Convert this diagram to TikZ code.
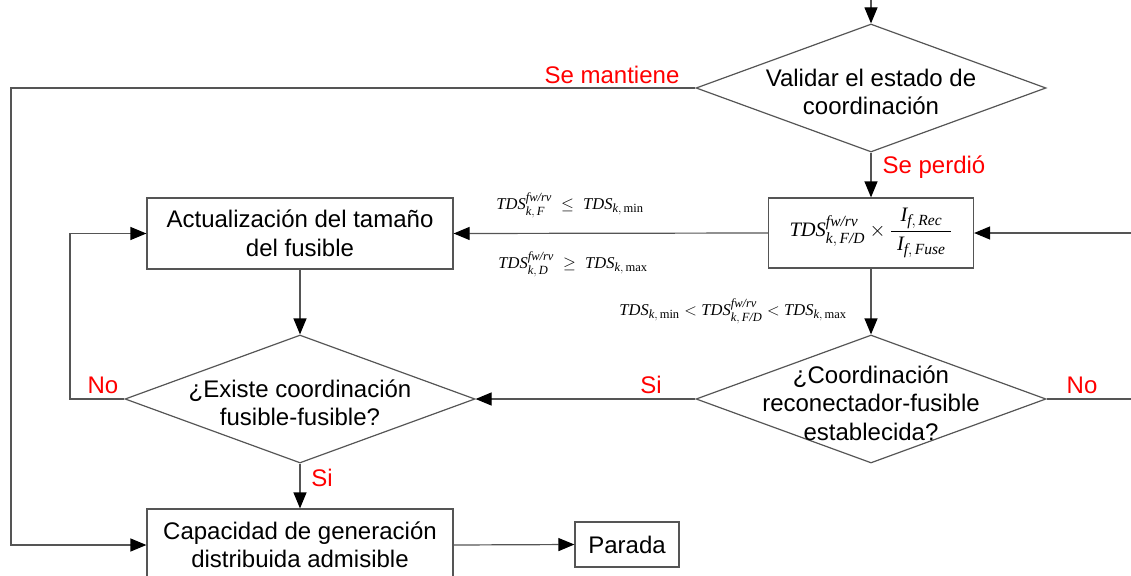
\RequirePackage{fix-cm}
\documentclass[tikz,border=0pt]{standalone}
\usepackage{amsmath}
\usepackage{fontspec}
\setmainfont{Liberation Sans}
\newfontfamily\tfont{Liberation Serif}
\usetikzlibrary{shapes.geometric,arrows.meta}
\DeclareMathSizes{16.5}{16.5}{12.5}{10}
\DeclareMathSizes{20.5}{20.5}{15.5}{12}
\newcommand{\ti}[1]{\text{\tfont\itshape #1}}
\newcommand{\tr}[1]{\text{\tfont #1}}
\newcommand{\cm}{,\,}
\definecolor{linec}{RGB}{85,85,85}
\definecolor{redc}{RGB}{255,0,0}
\tikzset{
  every node/.style={font=\fontsize{24}{28.5}\selectfont},
  conn/.style={draw=linec, line width=1.2pt},
  arr/.style={conn, -{Triangle[length=16pt,width=13pt,color=black,fill=black]}},
  procbox/.style={draw=linec, line width=1.2pt, rectangle, inner sep=0pt, align=center},
  decision/.style={draw=linec, line width=1.2pt, diamond, inner sep=0pt, minimum width=350pt, minimum height=128pt},
  dlabel/.style={align=center, yshift=-4pt},
  redlbl/.style={text=redc, inner sep=0pt},
  mathlbl/.style={inner sep=0pt, font=\fontsize{16.5}{19}\selectfont},
}
\begin{document}
\begin{tikzpicture}[x=1pt, y=-1pt]
\useasboundingbox (0,0) rectangle (1131,575);
% nodes
\node[decision, label={[dlabel]center:{Validar el estado de\\coordinación}}] (D1) at (871,88) {};
\node[procbox, minimum width=205pt, minimum height=70pt, font=\fontsize{20.5}{24}\selectfont] (F) at (871,233)
  {$\ti{TDS}^{\ti{fw/rv}}_{\ti{k}\cm\ti{F/D}}\times\dfrac{\;\ti{I}_{\ti{f}\cm\ti{Rec}}\;}{\;\ti{I}_{\ti{f}\cm\ti{Fuse}}\;}$};
\node[procbox, minimum width=306pt, minimum height=71pt] (A) at (300,233.5) {Actualización del tamaño\\del fusible};
\node[decision, label={[dlabel]center:{¿Existe coordinación\\fusible-fusible?}}] (D2) at (300,399) {};
\node[decision, label={[dlabel]center:{¿Coordinación\\reconectador-fusible\\establecida?}}] (D3) at (871,399) {};
\node[procbox, minimum width=306pt, minimum height=72pt] (C) at (300,545) {Capacidad de generación\\distribuida admisible};
\node[procbox, minimum width=104pt, minimum height=45pt] (P) at (627,544.5) {Parada};
% free ends
\coordinate (topin) at (871,-20);
\coordinate (rin) at (1145,233);
\coordinate (rout) at (1145,399);
\coordinate (lx) at (11,300);
\coordinate (nx) at (70,300);
% connectors
\draw[arr] (topin) -- (D1.north);
\draw[arr] (D1.west) -| (lx) |- (C.west);
\draw[arr] (D1.south) -- (F.north);
\draw[arr] (rin) -- (F.east);
\draw[arr] (F.west) -- (A.east);
\draw[arr] (A.south) -- (D2.north);
\draw[arr] (F.south) -- (D3.north);
\draw[arr] (D3.west) -- (D2.east);
\draw[conn] (D3.east) -- (rout);
\draw[arr] (D2.west) -| (nx) |- (A.west);
\draw[arr] (D2.south) -- (C.north);
\draw[arr] (C.east) -- (P.west);
% labels
\node[redlbl] (lmant) at (612,75) {Se mantiene};
\node[redlbl] (lperd) at (934,167) {Se perdió};
\node[redlbl] (lsi1) at (651,385) {Si};
\node[redlbl] (lno1) at (1082,385) {No};
\node[redlbl] (lno2) at (103,385) {No};
\node[redlbl] (lsi2) at (322,478) {Si};
\node[mathlbl] (f1) at (570,205) {$\ti{TDS}^{\ti{fw/rv}}_{\ti{k}\cm\ti{F}}\;\leq\;\ti{TDS}_{\ti{k}\cm\tr{min}}$};
\node[mathlbl] (f2) at (573,264) {$\ti{TDS}^{\ti{fw/rv}}_{\ti{k}\cm\ti{D}}\;\geq\;\ti{TDS}_{\ti{k}\cm\tr{max}}$};
\node[mathlbl] (f3) at (733,311) {$\ti{TDS}_{\ti{k}\cm\tr{min}}<\ti{TDS}^{\ti{fw/rv}}_{\ti{k}\cm\ti{F/D}}<\ti{TDS}_{\ti{k}\cm\tr{max}}$};
\end{tikzpicture}
\end{document}
